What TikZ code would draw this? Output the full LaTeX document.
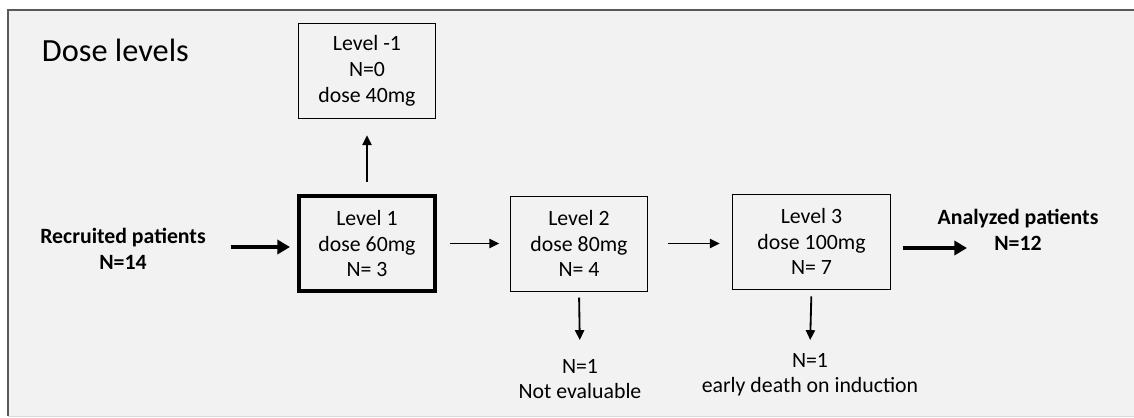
\documentclass[tikz,border=0pt]{standalone}
\usepackage{fontspec}
\setmainfont{Carlito}
\usetikzlibrary{arrows.meta}

\begin{document}
\begin{tikzpicture}[
    x=0.025cm, y=-0.025cm,
    level/.style={draw, line width=0.7pt, align=center, inner sep=0pt,
                  minimum width=3.4cm, minimum height=2.375cm,
                  font=\fontsize{15.5}{18.4}\selectfont},
    start/.style={level, line width=2.8pt},
    plain/.style={align=center, font=\fontsize{15.5}{18.4}\selectfont},
    heavy/.style={align=center, font=\fontsize{15.5}{18.4}\selectfont\bfseries},
    thin arrow/.style={-{Triangle[length=7pt,width=6.5pt]}, line width=1.3pt},
    thick arrow/.style={-{Triangle[length=9pt,width=10pt]}, line width=2.6pt}]

\useasboundingbox (0,0) rectangle (1134,417);
\fill[black!5] (8,10) rectangle (1134,416);
\draw[black!15, line width=0.6pt] (8,416) -- (1134,416);
\draw[black!65, line width=1.3pt] (8,416) -- (8,10) -- (1134,10);

\node[anchor=base west, font=\fontsize{23}{27}\selectfont] (title) at (37,61) {Dose levels};

% dose levels
\node[level] (lvlm) at (367,70.5) {Level -1\\N=0\\dose 40mg};
\node[start] (lvla) at (367,243.5) {Level 1\\dose 60mg\\N= 3};
\node[level] (lvlb) at (579,243.5) {Level 2\\dose 80mg\\N= 4};
\node[level, minimum width=3.925cm] (lvlc) at (811.5,241.5) {Level 3\\dose 100mg\\N= 7};

% patients
\node[heavy] (recr) at (123,249) {Recruited patients\\N=14};
\node[heavy] (anal) at (1018,230) {Analyzed patients\\N=12};
\coordinate (analin) at (967,248);

% drop outs
\node[plain, anchor=north] (outb) at (580,354) {N=1\\Not evaluable};
\node[plain, anchor=north] (outc) at (810,348) {N=1\\early death on induction};

\draw[thick arrow] (recr.east |- 0,247) ++(20,0) -- (290,247);
\draw[thin arrow, shorten <=0.3cm, shorten >=0.42cm] (lvla) -- (lvlm);
\draw[thin arrow, shorten <=0.32cm, shorten >=0.28cm] (lvla.east) -- (lvlb.west);
\draw[thin arrow, shorten <=0.5cm, shorten >=0.32cm] (lvlb.east) -- (lvlb.east -| lvlc.west);
\draw[thick arrow, shorten <=0.3cm] (lvlc.east |- analin) -- (analin);
\draw[thin arrow, shorten <=0.15cm, shorten >=0.35cm] (lvlb.south) -- (outb.north);
\draw[thin arrow, shorten <=0.17cm, shorten >=0.2cm] (lvlc.south) -- (outc.north);

\end{tikzpicture}
\end{document}
